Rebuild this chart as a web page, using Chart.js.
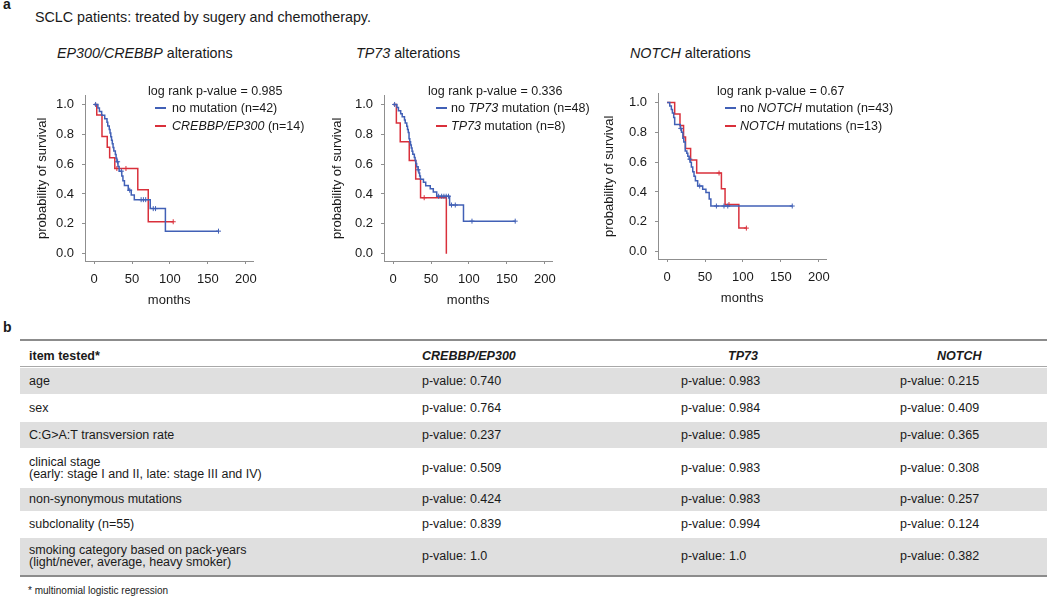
<!DOCTYPE html>
<html>
<head>
<meta charset="utf-8">
<script src="https://cdn.jsdelivr.net/npm/chart.js@4/dist/chart.umd.min.js"></script>
<style>
  html, body { margin: 0; padding: 0; background: #fff; }
  body { width: 1050px; height: 597px; position: relative; overflow: hidden;
         font-family: "Liberation Sans", Arial, sans-serif; color: #1a1a1a; }
  .abs { position: absolute; white-space: nowrap; }
  .panel { font-weight: bold; font-size: 14px; }
  .title { font-size: 14.3px; line-height: 18px; }
  .lg { font-size: 12.5px; line-height: 16px; }
  .mark { position: absolute; height: 2px; }
  canvas { position: absolute; }
  .rule { position: absolute; left: 20px; width: 1027px; background: #8c8c8c; }
  .row { position: absolute; left: 20px; width: 1027px; }
  .cell { position: absolute; font-size: 12.5px; line-height: 12px; white-space: pre; }
  .foot { font-size: 10px; }
</style>
</head>
<body>
<div class="abs panel" style="left:3px; top:-4px;">a</div>
<div class="abs title" style="left:35px; top:8px;">SCLC patients: treated by sugery and chemotherapy.</div>
<div class="abs panel" style="left:3px; top:319px;">b</div>

<canvas id="km1" width="250" height="240"></canvas>
<canvas id="km2" width="250" height="240"></canvas>
<canvas id="km3" width="250" height="240"></canvas>

<div id="table"></div>
<div class="abs foot" style="left:28px; top:585px;">* multinomial logistic regression</div>

<script>
// survival curves: [months, probability of survival] at each step
const curveNoEp300 = [[0,1],[5,0.976],[7,0.952],[10,0.928],[14,0.904],[17,0.880],[18,0.856],[20,0.832],
  [21,0.808],[22,0.784],[23,0.760],[24,0.736],[25,0.712],[26,0.688],[28,0.664],[29,0.640],[30,0.616],
  [31.5,0.585],[33,0.553],[36.5,0.521],[38,0.489],[40,0.457],[45,0.425],[49,0.393],[53,0.362],
  [74,0.302],[94,0.151],[164,0.151]]
const curveEp300 = [[0,1],[3.5,0.929],[10.4,0.786],[17.3,0.714],[20.5,0.643],[27.3,0.571],[57.6,0.429],
  [71.4,0.214],[104.3,0.214]]
const curveNoTp73 = [[0,1],[5,0.979],[7,0.958],[10,0.937],[12,0.917],[15,0.896],[16,0.875],[18,0.854],
  [19,0.833],[20,0.812],[21,0.771],[22,0.75],[23,0.729],[24,0.708],[25,0.687],[26,0.666],[28,0.645],
  [29,0.625],[30,0.604],[31,0.583],[33,0.562],[34,0.541],[35,0.52],[36,0.499],[40,0.478],[43,0.456],
  [49,0.435],[53,0.413],[57.5,0.385],[74.5,0.326],[92.8,0.218],[161,0.218]]
const curveTp73 = [[0,1],[4.3,0.875],[9.4,0.75],[21.3,0.625],[29.8,0.5],[36.2,0.375],[70.2,0]]
const curveNoNotch = [[0,1],[3.5,0.977],[5.6,0.953],[7,0.93],[8.7,0.9],[10,0.852],[17.4,0.826],[19,0.8],
  [20.8,0.76],[22,0.735],[23.9,0.675],[26,0.66],[27.3,0.64],[29,0.62],[30.4,0.6],[32,0.567],[33.8,0.535],
  [35.5,0.505],[37.3,0.475],[40.3,0.44],[46.9,0.418],[51.2,0.396],[55.5,0.353],[57.7,0.306],[165,0.306]]
const curveNotch = [[0,1],[10,0.923],[17,0.846],[21.7,0.769],[24.3,0.692],[31,0.615],[39,0.527],
  [71.6,0.422],[76.4,0.316],[94.6,0.158],[104.5,0.158]]

// censored patients (months)
const censNoEp300 = [2, 31, 36, 47, 62, 65, 68, 78, 81, 164]
const censEp300 = [30, 42, 104.3]
const censNoTp73 = [2, 33, 60, 64, 67, 70, 73, 77, 82, 104, 161]
const censTp73 = [41]
const censNoNotch = [18, 30, 43, 65, 75, 80, 165]
const censNotch = [68.5, 81.6, 104.5]

const X_TICKS = [0, 50, 100, 150, 200]
const Y_TICKS = [0, 0.2, 0.4, 0.6, 0.8, 1.0]

const pValues = ['0.985', '0.336', '0.67']
const plotTitles = ['<i>EP300/CREBBP</i> alterations', '<i>TP73</i> alterations', '<i>NOTCH</i> alterations']
const blueLabels = ['no mutation (n=42)', 'no <i>TP73</i> mutation (n=48)', 'no <i>NOTCH</i> mutation (n=43)']
const redLabels = ['<i>CREBBP/EP300</i> (n=14)', '<i>TP73</i> mutation (n=8)', '<i>NOTCH</i> mutations (n=13)']

// table b
const itemsTested = ['age', 'sex', 'C:G>A:T transversion rate',
  'clinical stage\n(early: stage I and II, late: stage III and IV)',
  'non-synonymous mutations', 'subclonality (n=55)',
  'smoking category based on pack-years\n(light/never, average, heavy smoker)']
const pCrebbp = ['0.740', '0.764', '0.237', '0.509', '0.424', '0.839', '1.0']
const pTp73 = ['0.983', '0.984', '0.985', '0.983', '0.983', '0.994', '1.0']
const pNotch = ['0.215', '0.409', '0.365', '0.308', '0.257', '0.124', '0.382']
const tableHeads = ['item tested*', '<i>CREBBP/EP300</i>', '<i>TP73</i>', '<i>NOTCH</i>']

const BLUE = '#4160b6'
const RED = '#d9303b'
const AXIS = '#8f8f8f'
const TXT = '#1a1a1a'

Chart.defaults.font.family = '"Liberation Sans", Arial, sans-serif'

// layout of the three panels
const PANELS = [
  { id: 'km1', axisLeft: 85, top: 80, yTitlePad: 20, lr: 148, mk: 155, tx: 172,
    blue: curveNoEp300, red: curveEp300, blueCens: censNoEp300, redCens: censEp300, titleX: 57 },
  { id: 'km2', axisLeft: 384, top: 80, yTitlePad: 16, lr: 428, mk: 436, tx: 451,
    blue: curveNoTp73, red: curveTp73, blueCens: censNoTp73, redCens: censTp73, titleX: 356 },
  { id: 'km3', axisLeft: 658, top: 78, yTitlePad: 14, lr: 717, mk: 725, tx: 740,
    blue: curveNoNotch, red: curveNotch, blueCens: censNoNotch, redCens: censNotch, titleX: 630 },
]
const Y_AXIS_W = 70
const X_AXIS_H = 59

function survivalAt(curve, t) {
  let s = curve[0][1]
  for (const [ct, cs] of curve) { if (ct <= t) s = cs }
  return s
}

function addText(html, cls, left, top) {
  const d = document.createElement('div')
  d.className = 'abs ' + cls
  d.style.left = left + 'px'
  d.style.top = top + 'px'
  d.innerHTML = html
  document.body.appendChild(d)
  return d
}

function addMark(left, cy, color) {
  const d = document.createElement('div')
  d.className = 'mark'
  d.style.cssText = `left:${left}px; top:${cy - 1}px; width:11px; background:${color};`
  document.body.appendChild(d)
}

function kmChart(p) {
  const cv = document.getElementById(p.id)
  cv.style.left = (p.axisLeft - Y_AXIS_W) + 'px'
  cv.style.top = p.top + 'px'

  const toXY = arr => arr.map(([x, y]) => ({ x, y }))
  const cens = (curve, times) => times.map(t => ({ x: t, y: survivalAt(curve, t) }))
  const stepLine = (data, color) => ({ type: 'line', data: toXY(data), borderColor: color, borderWidth: 1.5,
    stepped: 'before', pointRadius: 0, fill: false })
  const crossMarks = (data, color) => ({ type: 'scatter', data, showLine: false, pointStyle: 'cross',
    pointRadius: 2.5, borderColor: color, borderWidth: 1, backgroundColor: color })

  new Chart(cv, {
    type: 'line',
    data: {
      datasets: [
        stepLine(p.blue, BLUE),
        crossMarks(cens(p.blue, p.blueCens), BLUE),
        stepLine(p.red, RED),
        crossMarks(cens(p.red, p.redCens), RED),
      ]
    },
    options: {
      animation: false,
      responsive: false,
      layout: { padding: { top: 8, right: 8, left: 0, bottom: 0 } },
      plugins: { legend: { display: false }, tooltip: { enabled: false } },
      scales: {
        x: {
          type: 'linear', min: -12, max: 210,
          afterBuildTicks: s => { s.ticks = X_TICKS.map(v => ({ value: v })) },
          afterFit: s => { s.height = X_AXIS_H },
          grid: { drawOnChartArea: false, drawTicks: true, tickLength: 3, color: AXIS },
          border: { display: true, color: AXIS, width: 1 },
          ticks: { padding: 8, autoSkip: false, maxRotation: 0, color: TXT, font: { size: 13 } },
          title: { display: true, text: 'months', color: TXT, font: { size: 13 }, padding: { top: 0, bottom: 12 } }
        },
        y: {
          type: 'linear', min: -0.049, max: 1.058,
          afterBuildTicks: s => { s.ticks = Y_TICKS.map(v => ({ value: v })) },
          afterFit: s => { s.width = Y_AXIS_W },
          grid: { drawOnChartArea: false, drawTicks: true, tickLength: 3, color: AXIS },
          border: { display: true, color: AXIS, width: 1 },
          ticks: { padding: 8, color: TXT, font: { size: 13 }, callback: v => v.toFixed(1) },
          title: { display: true, text: 'probability of survival', color: TXT, font: { size: 13 },
                   padding: { top: p.yTitlePad, bottom: 0 } }
        }
      }
    }
  })
}

PANELS.forEach((p, i) => {
  addText(plotTitles[i], 'title', p.titleX, 44)
  addText('log rank p-value = ' + pValues[i], 'lg', p.lr, 83)
  addMark(p.mk, 108, BLUE)
  addText(blueLabels[i], 'lg', p.tx, 100)
  addMark(p.mk, 126, RED)
  addText(redLabels[i], 'lg', p.tx, 118)
  kmChart(p)
})

// table b -- rows drawn as bands, columns placed by left offset
const ROW_TOPS = [340, 367, 394, 421, 448, 487, 511, 537]
const ROW_BOTTOM = 575
const COL_X = [29, 422, 681, 900]
const HEAD_X = [29, 422, 728, 937]

function buildTable() {
  const t = document.getElementById('table')
  let html = ''
  html += `<div class="rule" style="top:339px; height:2px;"></div>`
  html += `<div class="rule" style="top:366px; height:1px; background:#a8a8a8;"></div>`
  html += `<div class="rule" style="top:575px; height:1.5px;"></div>`
  // header
  const hTop = ROW_TOPS[0], hBot = ROW_TOPS[1]
  tableHeads.forEach((h, c) => {
    html += `<div class="cell" style="left:${HEAD_X[c]}px; top:${(hTop + hBot) / 2 - 4}px; font-weight:bold;">${h}</div>`
  })
  itemsTested.forEach((item, r) => {
    const top = ROW_TOPS[r + 1]
    const bot = r + 2 < ROW_TOPS.length ? ROW_TOPS[r + 2] : ROW_BOTTOM
    const cy = (top + bot) / 2
    if (r % 2 === 0) {
      html += `<div class="row" style="top:${top + 1}px; height:${bot - top - 1}px; background:#dfdfdf;"></div>`
    }
    const lines = item.split('\n').length
    html += `<div class="cell" style="left:${COL_X[0]}px; top:${cy - lines * 6}px;">${item.replace(/>/g, '&gt;')}</div>`
    const vals = [pCrebbp[r], pTp73[r], pNotch[r]]
    vals.forEach((v, c) => {
      html += `<div class="cell" style="left:${COL_X[c + 1]}px; top:${cy - 6}px;">p-value: ${v}</div>`
    })
  })
  t.innerHTML = html
}
buildTable()
</script>
</body>
</html>
